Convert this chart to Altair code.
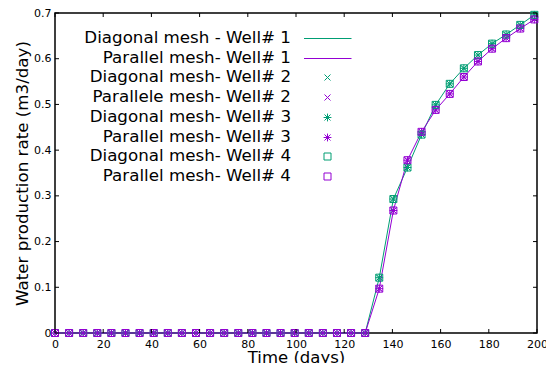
import altair as alt
import pandas as pd

# ---- data ----
time_days = [0, 5.85, 11.7, 17.55, 23.4, 29.25, 35.1, 40.95, 46.8, 52.65, 58.5, 64.35,
             70.2, 76.05, 81.9, 87.75, 93.6, 99.45, 105.3, 111.15, 117.0, 122.85, 128.7,
             134.55, 140.4, 146.25, 152.1, 157.95, 163.8, 169.65, 175.5, 181.35, 187.2,
             193.05, 198.9]
diagonal_rate = [0, 0, 0, 0, 0, 0, 0, 0, 0, 0, 0, 0, 0, 0, 0, 0, 0, 0, 0, 0, 0, 0, 0,
                 0.121, 0.293, 0.362, 0.434, 0.499, 0.545, 0.579, 0.608, 0.633, 0.653,
                 0.674, 0.696]
parallel_rate = [0, 0, 0, 0, 0, 0, 0, 0, 0, 0, 0, 0, 0, 0, 0, 0, 0, 0, 0, 0, 0, 0, 0,
                 0.097, 0.268, 0.378, 0.440, 0.488, 0.523, 0.560, 0.594, 0.622, 0.645,
                 0.666, 0.686]
x_ticks = [0, 20, 40, 60, 80, 100, 120, 140, 160, 180, 200]
y_ticks = [0, 0.1, 0.2, 0.3, 0.4, 0.5, 0.6, 0.7]
legend_labels = ["Diagonal mesh - Well# 1", "Parallel mesh- Well# 1",
                 "Diagonal mesh- Well# 2", "Parallele mesh- Well# 2",
                 "Diagonal mesh- Well# 3", "Parallel mesh- Well# 3",
                 "Diagonal mesh- Well# 4", "Parallel mesh- Well# 4"]

TEAL = "#009e73"
PURPLE = "#9400d3"
W, H = 482, 320
FONT = "DejaVu Sans"

X_SHAPE = "M-1,-1L1,1M1,-1L-1,1"
STAR_SHAPE = "M-1,-1L1,1M1,-1L-1,1M0,-1.3L0,1.3M-1.3,0L1.3,0"
SQ_SHAPE = "square"

diag = pd.DataFrame({"t": time_days, "r": diagonal_rate})
par = pd.DataFrame({"t": time_days, "r": parallel_rate})

xs = alt.Scale(domain=[0, 200], nice=False)
ys = alt.Scale(domain=[0, 0.7], nice=False)

x_axis = alt.Axis(values=x_ticks, ticks=False, domain=False, grid=False, labelFontSize=11,
                  labelPadding=5, title="Time (days)", titleFontSize=16.5,
                  titleFontWeight="normal", titleY=29, titleBaseline="alphabetic",
                  labelColor="black", titleColor="black", labelFlush=False)
y_axis = alt.Axis(values=y_ticks, ticks=False, domain=False, grid=False, labelFontSize=11,
                  labelPadding=4, title="Water production rate (m3/day)", titleFontSize=16.7,
                  titleFontWeight="normal", titleX=-33, titleBaseline="middle",
                  labelExpr="datum.value == 0 ? '0' : format(datum.value, '.1f')",
                  labelColor="black", titleColor="black", labelFlush=False)

X = lambda f: alt.X(f, scale=xs, axis=x_axis)
Y = lambda f: alt.Y(f, scale=ys, axis=y_axis)


def line_layer(df, color):
    return alt.Chart(df).mark_line(color=color, strokeWidth=1).encode(
        x=X("t:Q"), y=Y("r:Q"))


def point_layer(df, color, shape, size):
    return alt.Chart(df).mark_point(color=color, shape=shape, size=size, filled=False,
                                    strokeWidth=1, opacity=1).encode(
        x=X("t:Q"), y=Y("r:Q"))


layers = [
    line_layer(diag, TEAL),
    line_layer(par, PURPLE),
    point_layer(diag, TEAL, X_SHAPE, 36),
    point_layer(par, PURPLE, X_SHAPE, 36),
    point_layer(diag, TEAL, STAR_SHAPE, 36),
    point_layer(par, PURPLE, STAR_SHAPE, 36),
    point_layer(diag, TEAL, SQ_SHAPE, 49),
    point_layer(par, PURPLE, SQ_SHAPE, 49),
]

# inward ticks on all four sides
xt = pd.DataFrame({"t": x_ticks})
yt = pd.DataFrame({"r": y_ticks})
TL = 4
layers += [
    alt.Chart(xt).mark_rule(color="black", strokeWidth=1).encode(
        x=X("t:Q"), y=alt.value(H), y2=alt.value(H - TL)),
    alt.Chart(xt).mark_rule(color="black", strokeWidth=1).encode(
        x=X("t:Q"), y=alt.value(0), y2=alt.value(TL)),
    alt.Chart(yt).mark_rule(color="black", strokeWidth=1).encode(
        y=Y("r:Q"), x=alt.value(0), x2=alt.value(TL)),
    alt.Chart(yt).mark_rule(color="black", strokeWidth=1).encode(
        y=Y("r:Q"), x=alt.value(W), x2=alt.value(W - TL)),
]

# key (gnuplot style: label right-aligned, sample on the right)
sample_kinds = [("line", TEAL, None), ("line", PURPLE, None),
                ("pt", TEAL, X_SHAPE), ("pt", PURPLE, X_SHAPE),
                ("pt", TEAL, STAR_SHAPE), ("pt", PURPLE, STAR_SHAPE),
                ("pt", TEAL, SQ_SHAPE), ("pt", PURPLE, SQ_SHAPE)]
ROW0, ROWH = 25.0, 19.7
for i, (label, (kind, color, shape)) in enumerate(zip(legend_labels, sample_kinds)):
    yy = ROW0 + ROWH * i
    lab = pd.DataFrame({"label": [label]})
    layers.append(alt.Chart(lab).mark_text(align="right", baseline="middle", fontSize=16.7,
                                           font=FONT, color="black").encode(
        text="label:N", x=alt.value(236), y=alt.value(yy)))
    if kind == "line":
        layers.append(alt.Chart(lab).mark_rule(color=color, strokeWidth=1).encode(
            x=alt.value(249), x2=alt.value(296.5), y=alt.value(round(yy) + 0.5)))
    else:
        layers.append(alt.Chart(lab).mark_point(color=color, shape=shape,
                                                size=49 if shape == SQ_SHAPE else 36,
                                                filled=False, strokeWidth=1, opacity=1).encode(
            x=alt.value(272.5), y=alt.value(round(yy) + 0.5)))

chart = alt.layer(*layers).properties(
    width=W, height=H,
    padding={"left": 47, "top": 5, "right": 9, "bottom": 30},
    autosize=alt.AutoSizeParams(type="none"),
).configure(
    font=FONT
).configure_view(
    stroke="black", strokeWidth=1.5
).configure_axis(labelFont=FONT, titleFont=FONT)

chart.save("out.html", embed_options={"renderer": "svg", "actions": False})
